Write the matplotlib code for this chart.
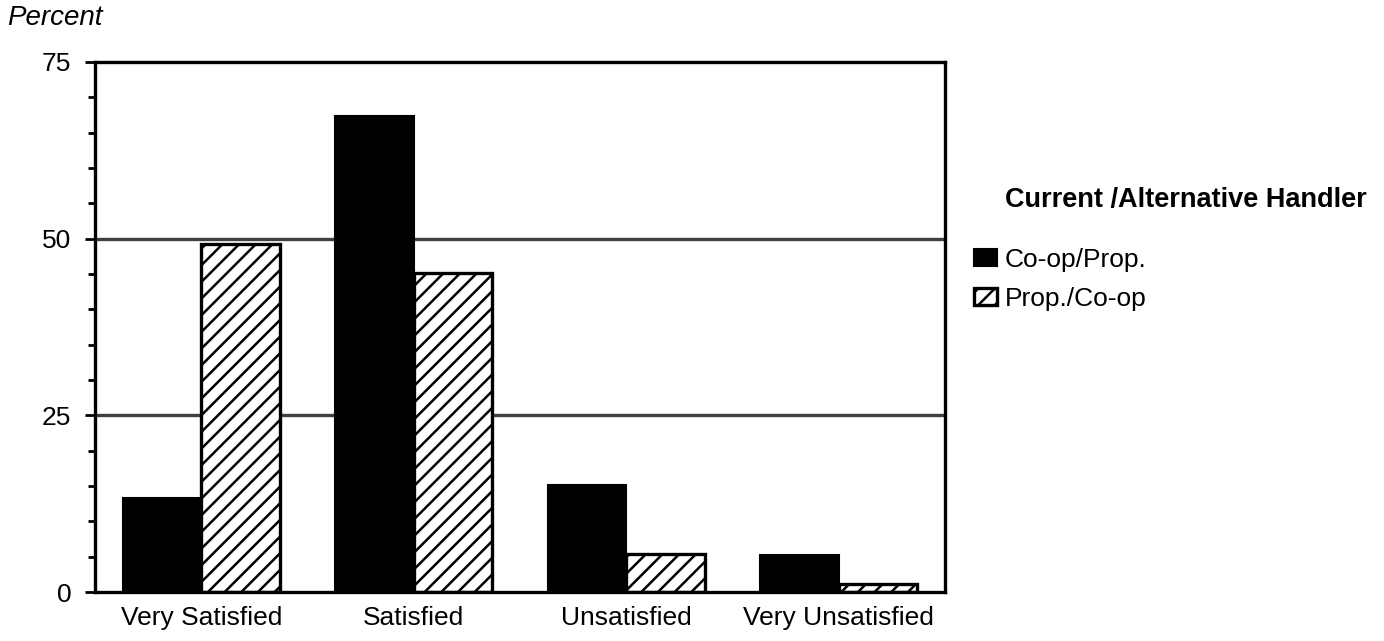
import matplotlib
matplotlib.use("Agg")
import matplotlib.pyplot as plt
import numpy as np

plt.rcParams['font.family'] = ['Liberation Sans', 'DejaVu Sans']
plt.rcParams['hatch.linewidth'] = 1.8

categories = ["Very Satisfied", "Satisfied", "Unsatisfied", "Very Unsatisfied"]
coop_prop = [13.3, 67.4, 15.1, 5.2]
prop_coop = [49.2, 45.1, 5.4, 1.1]
series_names = ["Co-op/Prop.", "Prop./Co-op"]
legend_title = "Current /Alternative Handler"
yticks = [0, 25, 50, 75]

fig = plt.figure(figsize=(13.84, 6.41), dpi=100)
ax = fig.add_axes([0.0686, 0.0764, 0.6142, 0.8269])

x = np.arange(len(categories))
w = 0.37
ax.set_axisbelow(True)
for yv in [25, 50]:
    ax.axhline(yv, color='#404040', lw=2.4, zorder=0)
b1 = ax.bar(x - w/2, coop_prop, w, color='black', edgecolor='black', lw=1.5,
            label=series_names[0], zorder=2)
b2 = ax.bar(x + w/2, prop_coop, w, color='white', edgecolor='black', lw=2.4,
            hatch='//', label=series_names[1], zorder=2)

ax.set_xlim(-0.5, 3.5)
ax.set_ylim(0, 75)
ax.set_yticks(yticks)
ax.set_yticks(np.arange(0, 76, 5), minor=True)
ax.set_xticks(x)
ax.set_xticklabels(categories, fontsize=19)
ax.tick_params(axis='y', labelsize=19, length=7, width=2, direction='out', pad=10)
ax.tick_params(axis='y', which='minor', length=5, width=2)
ax.tick_params(axis='x', length=0, pad=10)
for s in ax.spines.values():
    s.set_linewidth(2.4)

fig.text(0.005, 0.972, "Percent", fontsize=20, style='italic', ha='left', va='center')

fig.text(0.726, 0.688, legend_title, fontsize=19.5, fontweight='bold',
         ha='left', va='center')
leg = fig.legend(handles=[b1, b2], labels=series_names, loc='upper left',
                 bbox_to_anchor=(0.704, 0.613), frameon=False, fontsize=19,
                 handlelength=0.85, handleheight=0.6, handletextpad=0.3,
                 labelspacing=0.55, borderaxespad=0, borderpad=0)

fig.savefig("out.png", dpi=100)
